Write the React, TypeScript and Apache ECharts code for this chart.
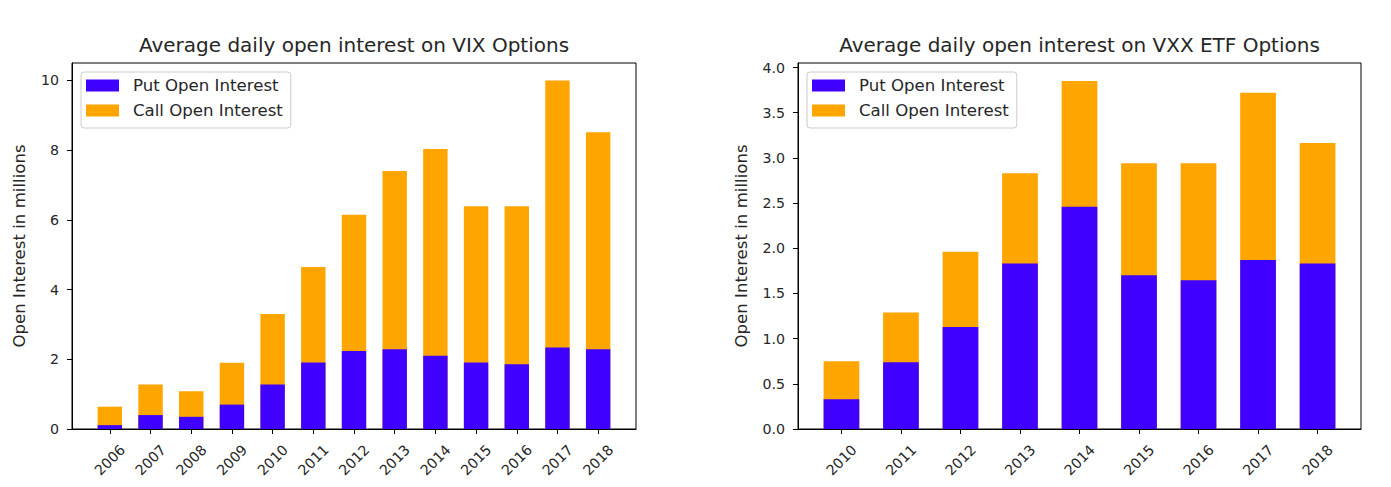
import React, { useEffect, useRef } from "react";
import * as echarts from "echarts";

// ---- Data (values in millions) ----
const vixYears = ["2006", "2007", "2008", "2009", "2010", "2011", "2012", "2013", "2014", "2015", "2016", "2017", "2018"];
const vixPut = [0.11, 0.40, 0.35, 0.70, 1.28, 1.91, 2.24, 2.29, 2.10, 1.91, 1.86, 2.34, 2.29];
const vixCall = [0.53, 0.88, 0.73, 1.20, 2.02, 2.74, 3.91, 5.11, 5.93, 4.48, 4.53, 7.66, 6.22];

const vxxYears = ["2010", "2011", "2012", "2013", "2014", "2015", "2016", "2017", "2018"];
const vxxPut = [0.33, 0.74, 1.13, 1.83, 2.46, 1.70, 1.645, 1.87, 1.83];
const vxxCall = [0.42, 0.55, 0.83, 1.00, 1.39, 1.24, 1.295, 1.85, 1.335];

const vixTicks = [0, 2, 4, 6, 8, 10];
const vxxTicks = [0, 0.5, 1.0, 1.5, 2.0, 2.5, 3.0, 3.5, 4.0];

const seriesNames = ["Put Open Interest", "Call Open Interest"];
const titles = ["Average daily open interest on VIX Options", "Average daily open interest on VXX ETF Options"];
const yName = "Open Interest in millions";

// ---- Styles ----
const FONT = "DejaVu Sans";
const TXT = "#262626";
const PUT_COLOR = "#4000FF";
const CALL_COLOR = "#FFA500";

const grids = [
  { left: 72, top: 63, width: 564, height: 366 },
  { left: 798, top: 63, width: 563, height: 366 },
];

function buildOption() {
  const xRanges = [
    { min: -0.93, max: 12.93 },
    { min: -0.73, max: 8.73 },
  ];
  const yRanges = [
    { min: 0, max: 10.5 },
    { min: 0, max: 4.05 },
  ];
  const cats = [vixYears, vxxYears];
  const puts = [vixPut, vxxPut];
  const calls = [vixCall, vxxCall];
  const yTicks = [vixTicks, vxxTicks];

  const xAxis: any[] = [];
  const yAxis: any[] = [];
  const series: any[] = [];
  const legend: any[] = [];
  const graphic: any[] = [];

  for (let g = 0; g < 2; g++) {
    const idx = cats[g].map((_, i) => i);
    const bw = (0.6 * grids[g].width) / (xRanges[g].max - xRanges[g].min);
    xAxis.push({
      type: "value",
      gridIndex: g,
      min: xRanges[g].min,
      max: xRanges[g].max,
      axisLine: { show: true, onZero: false, lineStyle: { color: "#000", width: 1 } },
      axisTick: { show: true, length: 5, lineStyle: { color: "#000" }, customValues: idx },
      axisLabel: {
        customValues: idx,
        formatter: (v: number) => cats[g][Math.round(v)] ?? "",
        rotate: 45,
        align: "center",
        verticalAlign: "middle",
        margin: 31,
        fontSize: 14.2,
        fontFamily: FONT,
        color: TXT,
      },
      splitLine: { show: false },
    });
    yAxis.push({
      type: "value",
      gridIndex: g,
      min: yRanges[g].min,
      max: yRanges[g].max,
      axisLine: { show: true, onZero: false, lineStyle: { color: "#000", width: 1 } },
      axisTick: { show: true, length: 5, lineStyle: { color: "#000" }, customValues: yTicks[g] },
      axisLabel: {
        customValues: yTicks[g],
        formatter: (v: number) => (g === 0 ? String(v) : v.toFixed(1)),
        margin: 13,
        fontSize: 14.2,
        fontFamily: FONT,
        color: TXT,
      },
      splitLine: { show: false },
    });
    series.push({
      type: "bar",
      name: seriesNames[1],
      xAxisIndex: g,
      yAxisIndex: g,
      barWidth: bw,
      barGap: "-100%",
      itemStyle: { color: CALL_COLOR },
      data: idx.map((i) => [i, puts[g][i] + calls[g][i]]),
      z: 2,
    });
    series.push({
      type: "bar",
      name: seriesNames[0],
      xAxisIndex: g,
      yAxisIndex: g,
      barWidth: bw,
      barGap: "-100%",
      itemStyle: { color: PUT_COLOR },
      data: idx.map((i) => [i, puts[g][i]]),
      z: 3,
    });
    legend.push({
      data: seriesNames,
      orient: "vertical",
      left: grids[g].left + 9,
      top: 72,
      icon: "rect",
      itemWidth: 33,
      itemHeight: 12,
      itemGap: 8,
      padding: [5, 8, 9, 5],
      backgroundColor: "rgba(255,255,255,0.8)",
      borderColor: "#cccccc",
      borderWidth: 1,
      borderRadius: 3,
      selectedMode: false,
      textStyle: { fontSize: 16.6, fontFamily: FONT, color: TXT, padding: [0, 0, 0, 9] },
      z: 10,
    });
    graphic.push({
      type: "text",
      x: grids[g].left + grids[g].width / 2,
      y: 45,
      style: {
        text: titles[g],
        font: `20px "${FONT}"`,
        fill: TXT,
        textAlign: "center",
        textVerticalAlign: "middle",
      },
    });
    graphic.push({
      type: "text",
      x: g === 0 ? 19 : 741,
      y: grids[g].top + grids[g].height / 2,
      rotation: Math.PI / 2,
      style: {
        text: yName,
        font: `16.6px "${FONT}"`,
        fill: TXT,
        textAlign: "center",
        textVerticalAlign: "middle",
      },
    });
  }

  return {
    animation: false,
    backgroundColor: "#ffffff",
    grid: grids.map((gr) => ({
      ...gr,
      show: true,
      borderColor: "#000",
      borderWidth: 1,
      backgroundColor: "transparent",
      containLabel: false,
    })),
    xAxis,
    yAxis,
    series,
    legend,
    graphic,
  };
}

export default function App() {
  const ref = useRef<HTMLDivElement>(null);
  useEffect(() => {
    document.body.style.margin = "0";
    if (!ref.current) return;
    const chart = echarts.init(ref.current, null, { renderer: "svg" });
    chart.setOption(buildOption() as any);
    return () => chart.dispose();
  }, []);
  return <div ref={ref} style={{ width: 1391, height: 487 }} />;
}
